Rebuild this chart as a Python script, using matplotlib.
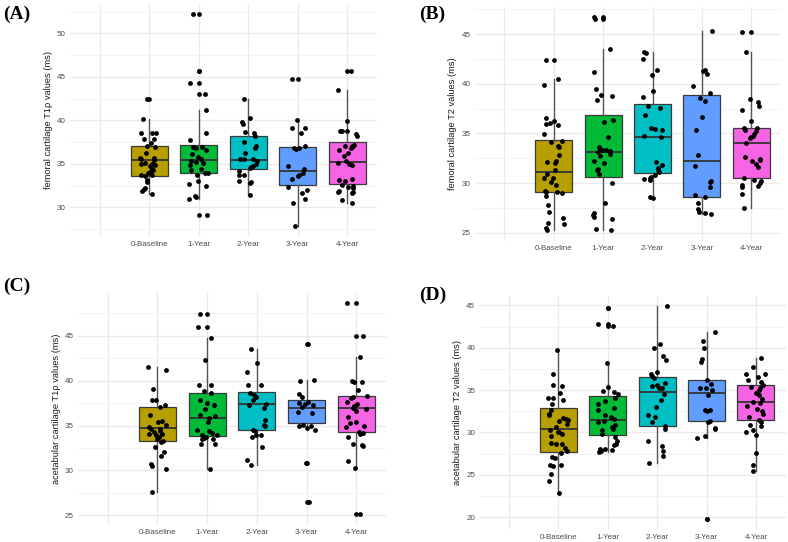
import matplotlib.pyplot as plt
from matplotlib.ticker import MultipleLocator

plt.rcParams['font.family'] = ['Liberation Sans', 'DejaVu Sans']

groups = ['0-Baseline', '1-Year', '2-Year', '3-Year', '4-Year']
box_colors = ['#B79F00', '#00BA38', '#00BFC4', '#619CFF', '#F564E3']

# ---- (A) femoral cartilage T1rho
a_q1 = [33.64, 33.95, 34.41, 32.53, 32.64]
a_med = [35.48, 35.40, 35.40, 34.18, 35.25]
a_q3 = [37.05, 37.13, 38.20, 36.97, 37.47]
a_lo = [31.5, 31.0, 31.4, 27.8, 30.5]
a_hi = [40.1, 41.2, 42.45, 40.0, 43.5]
a_out = [[42.5], [52.2, 45.7, 44.3, 43.0, 29.1], [], [44.7], [45.7]]
a_vals = [
    [42.5, 40.1, 38.5, 38.6, 38.6, 37.9, 37.8, 37.4, 37.1, 36.9, 36.2, 35.7, 35.6, 35.7, 35.4, 35.1, 35.0,
     35.0, 34.8, 34.9, 34.4, 34.3, 34.1, 33.9, 33.7, 33.6, 33.7, 33.1, 32.9, 32.2, 31.9, 32.1, 31.5],
    [52.2, 45.7, 44.3, 43.0, 41.2, 38.5, 37.7, 36.9, 36.8, 36.9, 36.6, 36.1, 35.8, 35.5, 35.3, 35.2, 35.1,
     34.9, 34.4, 34.3, 34.0, 33.9, 33.7, 33.0, 32.7, 32.4, 31.3, 31.2, 31.0, 29.1],
    [42.5, 40.3, 39.8, 39.6, 38.7, 38.5, 38.2, 37.5, 37.1, 36.8, 36.2, 35.6, 35.5, 35.6, 35.3, 35.0, 34.8,
     34.6, 34.5, 34.2, 33.7, 33.7, 33.0, 32.9, 32.8, 31.4],
    [44.7, 40.0, 39.1, 39.1, 38.6, 37.1, 36.8, 36.7, 36.8, 34.7, 34.4, 34.0, 33.7, 33.6, 33.2, 32.3, 32.0,
     31.6, 30.9, 30.5, 27.8],
    [45.7, 43.5, 39.9, 38.8, 38.8, 38.8, 38.4, 38.2, 37.2, 37.1, 37.0, 36.9, 36.8, 36.6, 36.3, 35.9, 35.3,
     35.1, 35.0, 34.9, 33.3, 33.1, 33.0, 32.6, 32.5, 32.3, 32.2, 31.9, 31.8, 31.7, 31.6, 30.8, 30.5],
]
a_jit = [
    [-0.05, -0.13, -0.17, 0.05, 0.13, -0.11, 0.09, 0.04, -0.05, 0.11, -0.07, -0.19, -0.16, 0.10, 0.09, -0.08, -0.17,
     0.05, 0.01, 0.11, 0.05, 0.07, 0.02, -0.02, -0.16, -0.09, 0.05, -0.05, -0.04, -0.08, -0.15, -0.11, 0.05],
    [-0.11, 0.00, -0.17, 0.12, 0.14, 0.14, -0.17, -0.11, -0.05, 0.07, 0.15, -0.13, -0.02, 0.05, -0.15, -0.06, 0.09,
     -0.18, 0.05, -0.16, 0.13, 0.19, -0.04, -0.02, -0.19, 0.15, -0.07, -0.05, -0.19, 0.17],
    [-0.09, 0.03, -0.12, -0.11, -0.07, 0.11, 0.13, -0.09, 0.15, 0.13, -0.07, -0.17, -0.08, 0.09, 0.17, 0.15, 0.09,
     0.06, 0.03, -0.18, -0.09, -0.19, -0.18, 0.06, 0.04, 0.03],
    [-0.12, -0.01, -0.11, 0.15, 0.06, 0.15, -0.08, -0.03, 0.03, -0.19, 0.12, 0.10, 0.03, 0.00, -0.11, -0.19, 0.19,
     0.09, 0.15, -0.09, -0.05],
    [0.07, -0.19, -0.01, -0.14, -0.11, 0.00, 0.18, 0.19, 0.14, 0.10, -0.05, 0.09, 0.07, -0.17, 0.01, -0.06, -0.02,
     -0.19, 0.04, 0.10, 0.10, -0.17, -0.04, -0.11, 0.12, 0.02, 0.11, -0.17, -0.19, 0.11, 0.09, -0.11, 0.10],
]

# ---- (B) femoral cartilage T2
b_q1 = [29.07, 30.58, 30.99, 28.64, 30.48]
b_med = [31.12, 33.14, 34.65, 32.26, 34.08]
b_q3 = [34.35, 36.87, 38.01, 38.92, 35.59]
b_lo = [25.3, 25.3, 28.5, 26.9, 27.5]
b_hi = [40.5, 43.5, 43.2, 45.3, 43.2]
b_out = [[42.4], [46.7, 46.5], [], [], [45.2]]
b_vals = [
    [42.4, 40.5, 39.9, 36.6, 36.3, 36.0, 36.1, 35.9, 34.9, 34.2, 34.1, 33.7, 33.6, 32.8, 32.2, 32.0, 32.1,
     31.3, 30.9, 30.5, 30.5, 30.1, 29.8, 29.2, 29.1, 29.1, 29.0, 28.7, 27.8, 27.1, 26.5, 26.0, 25.9, 25.5, 25.3],
    [46.7, 46.5, 43.5, 41.2, 39.5, 38.9, 38.8, 38.4, 36.4, 36.2, 34.6, 33.6, 33.4, 33.3, 33.3, 33.2, 33.1,
     32.9, 32.7, 32.2, 32.0, 31.4, 31.3, 30.9, 30.0, 28.0, 27.0, 26.8, 26.6, 26.4, 25.4, 25.3],
    [43.2, 43.1, 42.5, 41.4, 40.9, 39.3, 38.7, 37.8, 37.6, 36.9, 35.6, 35.5, 35.4, 34.7, 34.6, 32.1, 31.8,
     31.5, 31.3, 31.1, 30.8, 30.6, 30.4, 30.3, 30.5, 28.6, 28.5],
    [45.3, 41.3, 41.4, 41.0, 39.8, 39.1, 38.6, 38.3, 36.7, 35.4, 32.8, 31.7, 30.2, 30.1, 29.6, 28.8, 28.6,
     28.0, 27.4, 27.1, 27.0, 26.9],
    [45.2, 43.2, 38.5, 38.2, 37.8, 37.4, 36.3, 35.6, 35.6, 35.4, 35.3, 34.9, 34.7, 34.6, 34.5, 34.0, 32.6,
     32.4, 32.3, 32.2, 31.9, 31.6, 30.5, 30.3, 30.2, 30.0, 29.8, 29.6, 29.7, 28.9, 27.5],
]
b_jit = [
    [-0.15, 0.09, -0.19, -0.15, 0.01, -0.15, -0.07, 0.09, -0.20, 0.16, -0.05, 0.08, 0.10, 0.11, 0.05, 0.03, -0.13,
     0.03, -0.14, -0.20, -0.01, -0.06, 0.05, -0.18, -0.15, 0.07, 0.16, -0.16, -0.11, -0.10, 0.18, -0.11, 0.20, -0.15, -0.13],
    [-0.19, -0.17, 0.13, -0.18, -0.14, -0.05, 0.19, -0.12, 0.20, 0.01, 0.10, -0.09, -0.07, -0.03, 0.06, 0.13, -0.11,
     0.14, -0.06, -0.19, 0.02, -0.11, -0.13, -0.08, 0.19, 0.03, -0.19, -0.20, -0.19, 0.19, -0.14, 0.16],
    [-0.17, -0.14, -0.19, 0.09, -0.02, 0.01, -0.19, -0.10, 0.15, -0.16, -0.03, 0.05, 0.19, -0.17, 0.17, 0.08, 0.19,
     0.11, 0.12, 0.13, 0.05, -0.03, -0.18, -0.06, -0.05, -0.05, 0.01],
    [0.20, 0.03, 0.07, 0.10, -0.18, 0.16, -0.04, 0.06, 0.01, -0.13, -0.07, -0.14, 0.19, 0.17, 0.16, -0.14, 0.07,
     -0.07, -0.07, -0.05, 0.07, 0.19],
    [-0.19, -0.11, -0.02, 0.13, 0.15, -0.19, 0.00, -0.14, 0.11, -0.13, 0.10, 0.06, 0.03, -0.01, -0.02, -0.10, -0.13,
     0.18, 0.17, 0.01, 0.10, 0.13, -0.14, 0.05, 0.20, 0.17, -0.18, -0.18, 0.14, -0.18, -0.14],
]

# ---- (C) acetabular cartilage T1rho
c_q1 = [33.24, 33.87, 34.46, 35.28, 34.25]
c_med = [34.68, 35.87, 37.36, 36.91, 36.95]
c_q3 = [37.02, 38.65, 38.73, 37.84, 38.32]
c_lo = [27.6, 30.2, 30.6, 34.5, 30.3]
c_hi = [41.5, 44.7, 43.5, 40.1, 42.6]
c_out = [[], [47.4, 46.0], [], [44.1, 30.8, 26.5], [48.7, 45.0, 25.1]]
c_vals = [
    [41.5, 41.2, 39.1, 37.9, 37.9, 37.1, 37.3, 36.2, 35.5, 35.4, 35.1, 34.8, 34.6, 34.6, 34.3, 34.4, 34.1,
     34.0, 34.1, 33.7, 33.5, 33.3, 33.2, 32.6, 32.0, 31.6, 30.7, 30.5, 30.2, 27.6],
    [47.4, 46.0, 44.7, 42.3, 39.5, 39.5, 38.8, 38.6, 37.9, 37.5, 37.3, 36.8, 36.2, 36.1, 35.8, 35.4, 34.5,
     34.4, 34.2, 34.0, 33.9, 33.6, 33.7, 33.5, 33.5, 33.0, 32.9, 30.2],
    [43.5, 42.0, 41.0, 39.5, 39.5, 38.6, 38.4, 38.2, 37.9, 37.3, 37.0, 37.4, 35.6, 35.1, 35.0, 34.5, 34.4,
     34.0, 33.7, 33.9, 32.6, 31.2, 30.6],
    [44.1, 40.1, 40.0, 38.5, 38.2, 37.6, 37.5, 37.4, 37.3, 37.1, 36.5, 36.4, 35.1, 35.0, 35.0, 34.7, 34.5,
     30.8, 26.5],
    [48.7, 45.0, 42.6, 40.0, 39.8, 39.8, 39.0, 38.3, 38.2, 38.1, 37.6, 37.4, 37.2, 37.0, 36.9, 36.6, 36.0,
     35.4, 35.3, 35.0, 34.8, 34.3, 34.2, 34.1, 33.7, 32.9, 32.8, 32.7, 31.1, 30.3, 25.1],
]
c_jit = [
    [-0.20, 0.18, -0.09, -0.12, -0.03, 0.05, 0.16, -0.16, 0.10, 0.01, 0.17, -0.17, -0.14, 0.06, -0.07, 0.05, -0.17,
     -0.03, 0.09, 0.03, -0.01, 0.11, 0.08, -0.05, 0.14, 0.08, -0.14, -0.12, 0.18, -0.12],
    [-0.14, -0.19, 0.07, -0.05, -0.16, 0.07, -0.07, 0.07, -0.14, -0.01, 0.14, -0.05, -0.14, 0.16, 0.03, 0.02, -0.20,
     0.03, 0.09, 0.20, -0.10, -0.06, -0.03, -0.11, 0.12, -0.12, 0.16, 0.05],
    [-0.11, 0.01, -0.19, -0.18, 0.09, -0.14, -0.05, -0.02, -0.08, -0.15, 0.15, 0.18, 0.16, 0.15, 0.16, -0.07, -0.04,
     0.09, -0.10, -0.01, 0.11, -0.20, -0.11],
    [0.03, 0.15, -0.14, -0.16, -0.09, 0.03, -0.16, -0.03, 0.14, -0.09, -0.18, 0.11, -0.07, -0.15, 0.09, 0.01, 0.18,
     -0.02, 0.06],
    [-0.18, 0.13, 0.08, -0.08, -0.04, 0.12, 0.04, 0.21, -0.07, -0.10, -0.18, 0.01, -0.04, -0.06, 0.19, -0.01, -0.17,
     -0.01, -0.13, 0.16, -0.20, 0.05, 0.13, 0.08, -0.17, -0.06, 0.11, 0.13, -0.17, -0.02, 0.08],
]

# ---- (D) acetabular cartilage T2
d_q1 = [27.71, 29.72, 30.75, 31.34, 31.42]
d_med = [30.43, 31.50, 34.74, 34.62, 33.59]
d_q3 = [32.84, 34.30, 36.59, 36.20, 35.60]
d_lo = [22.9, 27.7, 26.4, 29.3, 25.4]
d_hi = [39.7, 38.2, 44.9, 41.8, 38.8]
d_out = [[], [44.7, 42.8, 42.6], [], [19.8], []]
d_vals = [
    [39.7, 36.9, 35.6, 35.5, 34.7, 34.1, 34.1, 33.8, 33.3, 32.6, 32.2, 32.0, 31.7, 31.6, 31.5, 31.3, 31.0,
     30.6, 30.3, 30.1, 30.0, 29.8, 29.6, 28.7, 28.6, 28.6, 28.2, 27.8, 27.6, 27.1, 27.0, 26.2, 26.1, 26.0,
     25.1, 24.3, 22.9],
    [44.7, 42.8, 42.6, 38.2, 35.4, 34.9, 34.8, 34.5, 34.1, 33.7, 33.4, 32.9, 32.6, 32.1, 31.8, 31.6, 31.4,
     31.2, 30.9, 30.6, 30.4, 30.3, 29.8, 29.5, 29.0, 28.6, 28.5, 28.0, 28.0, 27.8, 27.7, 27.9],
    [44.9, 40.4, 40.0, 39.0, 38.5, 37.1, 36.9, 36.7, 36.4, 35.8, 35.6, 35.5, 35.3, 35.2, 34.5, 33.8, 33.0,
     32.1, 31.8, 31.2, 30.8, 30.4, 29.0, 28.4, 27.8, 27.2, 26.4],
    [41.8, 40.8, 40.0, 38.7, 38.3, 36.2, 35.7, 35.3, 35.2, 35.0, 34.4, 32.7, 32.6, 32.5, 31.4, 31.2, 30.5,
     30.4, 29.6, 29.3, 19.8],
    [38.8, 37.7, 36.9, 36.9, 36.5, 36.2, 35.9, 35.6, 35.4, 35.2, 35.0, 34.6, 34.4, 34.0, 33.6, 33.5, 33.1,
     32.8, 32.5, 32.2, 31.8, 31.5, 31.2, 30.9, 30.8, 30.3, 30.0, 29.7, 27.6, 26.2, 25.4],
]
d_jit = [
    [-0.03, -0.10, -0.11, 0.07, 0.03, -0.21, -0.10, 0.10, -0.12, -0.15, -0.20, -0.19, 0.10, 0.15, 0.19, 0.02, 0.17,
     -0.05, -0.17, 0.01, -0.01, 0.07, -0.15, -0.15, -0.04, 0.07, 0.14, 0.17, 0.05, -0.14, -0.06, -0.17, 0.06, -0.10,
     -0.16, -0.19, 0.01],
    [0.00, -0.20, 0.10, -0.01, 0.00, -0.10, 0.13, 0.20, 0.15, -0.05, -0.19, 0.13, -0.19, -0.05, 0.07, 0.12, -0.08,
     -0.19, 0.14, 0.08, 0.11, -0.12, -0.12, 0.14, 0.18, 0.16, 0.13, -0.16, -0.05, -0.14, -0.17, 0.08],
    [0.19, 0.05, -0.07, 0.11, 0.17, 0.00, -0.12, -0.11, -0.07, 0.15, 0.00, -0.10, 0.09, 0.04, 0.13, 0.07, -0.03,
     -0.18, -0.04, -0.11, 0.15, 0.16, -0.18, 0.10, 0.12, 0.11, -0.17],
    [0.17, -0.07, -0.05, -0.10, -0.12, 0.00, 0.09, -0.13, -0.01, 0.11, 0.03, 0.07, -0.04, 0.01, 0.06, 0.03, 0.17,
     0.18, -0.03, -0.20, 0.00],
    [0.11, -0.06, -0.20, 0.18, 0.04, -0.16, 0.10, 0.14, -0.11, 0.08, 0.06, 0.00, 0.07, 0.12, -0.05, 0.08, -0.18,
     0.02, 0.13, 0.14, -0.15, 0.06, 0.11, -0.13, 0.11, -0.05, -0.20, 0.00, 0.01, -0.06, -0.07],
]


def draw_panel(ax, q1, med, q3, lo, hi, outl, vals, jit, ylabel):
    stats = []
    for i in range(5):
        stats.append(dict(med=med[i], q1=q1[i], q3=q3[i], whislo=lo[i], whishi=hi[i], fliers=outl[i]))
    bp = ax.bxp(stats, positions=range(1, 6), widths=0.75, patch_artist=True, showcaps=False,
                boxprops=dict(edgecolor='#3a3a3a', linewidth=0.9),
                medianprops=dict(color='#333333', linewidth=1.3),
                whiskerprops=dict(color='#555555', linewidth=1.0),
                flierprops=dict(marker='o', markerfacecolor='black', markeredgecolor='black',
                                markersize=3.4, markeredgewidth=0))
    for patch, col in zip(bp['boxes'], box_colors):
        patch.set_facecolor(col)
    for i in range(5):
        xs = [i + 1 + d for d in jit[i]]
        ax.scatter(xs, vals[i], s=12, color='black', linewidths=0, zorder=4)

    everything = [v for g in vals for v in g] + [v for g in outl for v in g]
    ymin, ymax = min(everything), max(everything)
    pad = (ymax - ymin) * 0.05
    ax.set_ylim(ymin - pad, ymax + pad)
    ax.set_xlim(-0.6, 5.6)
    ax.set_xticks(range(6))
    ax.set_xticklabels([''] + groups)
    ax.yaxis.set_major_locator(MultipleLocator(5))
    ax.yaxis.set_minor_locator(MultipleLocator(2.5))
    ax.grid(which='major', color='#EBEBEB', linewidth=1.0)
    ax.grid(which='minor', axis='y', color='#F3F3F3', linewidth=0.6)
    ax.set_axisbelow(True)
    for s in ax.spines.values():
        s.set_visible(False)
    ax.tick_params(which='both', length=0, labelsize=5.8, labelcolor='#4D4D4D', pad=3)
    ax.set_ylabel(ylabel, fontsize=6.7, color='#1a1a1a', labelpad=3)


W, H = 788, 542
fig = plt.figure(figsize=(W / 100, H / 100), dpi=100)


def add_axes(left, right, top, bottom):
    return fig.add_axes([left / W, 1 - bottom / H, (right - left) / W, (bottom - top) / H])


axA = add_axes(70, 377, 3.7, 237)
axB = add_axes(474.6, 781, 6.5, 240.6)
axC = add_axes(78, 386, 292, 525)
axD = add_axes(479.4, 785.6, 295.6, 529.4)

draw_panel(axA, a_q1, a_med, a_q3, a_lo, a_hi, a_out, a_vals, a_jit, 'femoral cartilage T1ρ values (ms)')
draw_panel(axB, b_q1, b_med, b_q3, b_lo, b_hi, b_out, b_vals, b_jit, 'femoral cartilage T2 values (ms)')
draw_panel(axC, c_q1, c_med, c_q3, c_lo, c_hi, c_out, c_vals, c_jit, 'acetabular cartilage T1ρ values (ms)')
draw_panel(axD, d_q1, d_med, d_q3, d_lo, d_hi, d_out, d_vals, d_jit, 'acetabular cartilage T2 values (ms)')

for lab, x, y in [('(A)', 3, 14), ('(B)', 419, 14), ('(C)', 3, 286), ('(D)', 419, 295)]:
    fig.text(x / W, 1 - y / H, lab, fontsize=14, fontweight='bold', family='Liberation Serif',
             va='center', ha='left')

fig.savefig('out.png', dpi=100)
